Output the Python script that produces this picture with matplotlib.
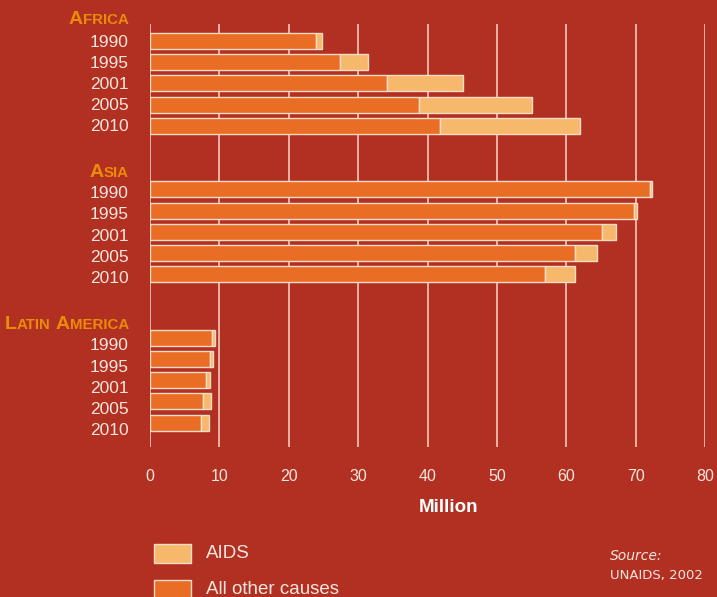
import matplotlib
matplotlib.use("Agg")
import matplotlib.pyplot as plt
from matplotlib.patches import Rectangle

# data (million)
regions = ["Africa", "Asia", "Latin America"]
years = ["1990", "1995", "2001", "2005", "2010"]
other_africa = [23.9, 27.4, 34.1, 38.8, 41.8]
aids_africa = [0.9, 4.0, 11.0, 16.2, 20.2]
other_asia = [72.0, 69.8, 65.2, 61.3, 57.0]
aids_asia = [0.3, 0.4, 1.9, 3.1, 4.3]
other_latin = [9.0, 8.7, 8.1, 7.7, 7.4]
aids_latin = [0.3, 0.4, 0.6, 1.1, 1.1]
x_ticks = [0, 10, 20, 30, 40, 50, 60, 70, 80]

BG = "#b23021"
ORANGE = "#e96d25"
LIGHT = "#f6b96c"
HEAD = "#ec8a0a"
TXT = "#f7e6de"
EDGE = "#f8dcc8"

W, H = 717, 597
fig = plt.figure(figsize=(W / 100, H / 100), dpi=100, facecolor=BG)
ax = fig.add_axes([150 / W, (H - 447) / H, 555 / W, 423 / H])
ax.set_facecolor(BG)

groups = [(other_africa, aids_africa), (other_asia, aids_asia), (other_latin, aids_latin)]
label_shift = [0.05, 0.2, 0.38]   # year labels sit a little below their bars further down
label_font = "Liberation Sans"

for g, (other, aids) in enumerate(groups):
    rows = [g * 7 + 1 + i for i in range(len(years))]
    ax.barh(rows, other, height=0.75, color=ORANGE, edgecolor=EDGE, linewidth=1, zorder=3)
    ax.barh(rows, aids, left=other, height=0.75, color=LIGHT, edgecolor=EDGE, linewidth=1, zorder=3)
    for r, yr in zip(rows, years):
        ax.text(-3.1, r + label_shift[g], yr, ha="right", va="center", fontsize=12.5,
                color=TXT, family=label_font, clip_on=False)

ax.set_xlim(0, 80)
ax.set_ylim(20.15, 0.2)
for x in x_ticks:
    ax.axvline(x, color="#eebcb0", lw=1.3, zorder=1)
ax.set_yticks([])
ax.set_xticks(x_ticks)
ax.set_xticklabels([str(x) for x in x_ticks], fontsize=11.5, color=TXT, family=label_font)
ax.tick_params(axis="x", length=0, pad=16)
for s in ax.spines.values():
    s.set_visible(False)

fig.text(448 / W, 1 - 507 / H, "Million", ha="center", va="center", fontsize=13.5,
         fontweight="bold", color="white", family=label_font)

# small-caps region headings, built right to left
fig.canvas.draw()
renderer = fig.canvas.get_renderer()
heads = [
    [("A", 14), ("FRICA", 10.8)],
    [("A", 14), ("SIA", 10.8)],
    [("L", 14), ("ATIN", 10.8), (" ", 0), ("A", 14), ("MERICA", 10.8)],
]
head_y = [19, 172, 324]
for parts, yp in zip(heads, head_y):
    xr = 129
    for txt, size in reversed(parts):
        if txt == " ":
            xr -= 5
            continue
        t = fig.text(xr / W, 1 - (yp + 5) / H, txt, ha="right", va="baseline", fontsize=size,
                     fontweight="bold", color=HEAD, family=label_font)
        xr = t.get_window_extent(renderer).x0

# legend
fig.add_artist(Rectangle((154 / W, 1 - 563 / H), 37 / W, 19 / H, transform=fig.transFigure,
                         facecolor=LIGHT, edgecolor=EDGE, lw=1))
fig.add_artist(Rectangle((154 / W, 1 - 599 / H), 37 / W, 19 / H, transform=fig.transFigure,
                         facecolor=ORANGE, edgecolor=EDGE, lw=1))
fig.text(206 / W, 1 - 553 / H, "AIDS", ha="left", va="center", fontsize=13.5, color=TXT, family=label_font)
fig.text(206 / W, 1 - 589 / H, "All other causes", ha="left", va="center", fontsize=13.5,
         color=TXT, family=label_font)

fig.text(610 / W, 1 - 556 / H, "Source:", ha="left", va="center", fontsize=10, style="italic",
         color=TXT, family="DejaVu Sans")
fig.text(610 / W, 1 - 576 / H, "UNAIDS, 2002", ha="left", va="center", fontsize=9.5,
         color=TXT, family="DejaVu Sans")

fig.savefig("out.png", dpi=100, facecolor=BG)
